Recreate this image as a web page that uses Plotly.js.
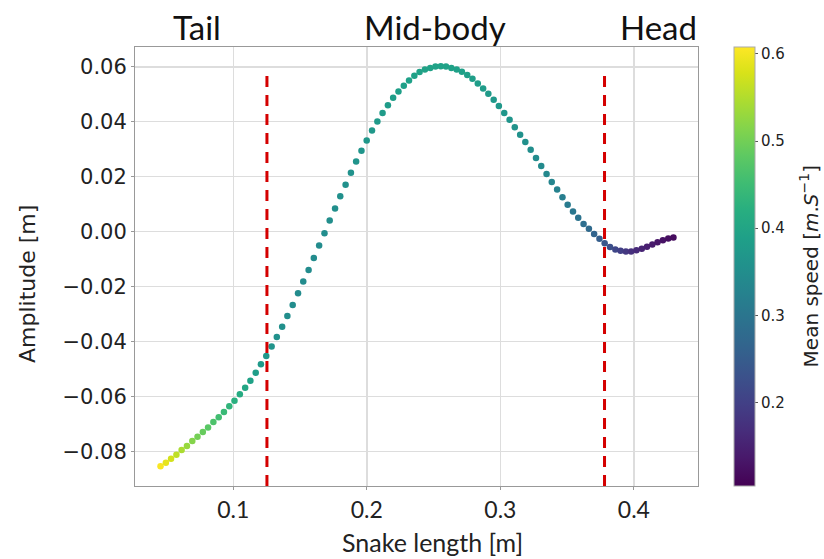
<!DOCTYPE html>
<html>
<head>
<meta charset="utf-8">
<script src="https://cdn.plot.ly/plotly-3.0.1.min.js"></script>
<style>html,body{margin:0;padding:0;background:#fff;}#chart{width:824px;height:559px;}</style>
</head>
<body>
<div id="chart"></div>
<script>
// Snake length [m]
const snakeLength = [
0.0455,0.0495,0.0534,0.0574,0.0613,0.0653,0.0693,0.0732,0.0772,0.0811,
0.0851,0.0891,0.0930,0.0970,0.1009,0.1049,0.1089,0.1128,0.1168,0.1207,
0.1247,0.1287,0.1326,0.1366,0.1405,0.1445,0.1485,0.1524,0.1564,0.1603,
0.1643,0.1683,0.1722,0.1762,0.1801,0.1841,0.1881,0.1920,0.1960,0.1999,
0.2039,0.2079,0.2118,0.2158,0.2197,0.2237,0.2277,0.2316,0.2356,0.2395,
0.2435,0.2475,0.2514,0.2554,0.2593,0.2633,0.2673,0.2712,0.2752,0.2791,
0.2831,0.2871,0.2910,0.2950,0.2989,0.3029,0.3069,0.3108,0.3148,0.3187,
0.3227,0.3267,0.3306,0.3346,0.3385,0.3425,0.3465,0.3504,0.3544,0.3583,
0.3623,0.3663,0.3702,0.3742,0.3781,0.3821,0.3861,0.3900,0.3940,0.3979,
0.4019,0.4059,0.4098,0.4138,0.4177,0.4217,0.4257,0.4296];

// Amplitude [m]
const amplitude = [
-0.0854,-0.0841,-0.0827,-0.0812,-0.0795,-0.0780,-0.0762,-0.0747,-0.0729,-0.0713,
-0.0693,-0.0676,-0.0657,-0.0636,-0.0616,-0.0592,-0.0568,-0.0543,-0.0514,-0.0483,
-0.0453,-0.0418,-0.0384,-0.0346,-0.0307,-0.0267,-0.0224,-0.0182,-0.0140,-0.0096,
-0.0051,-0.0006,0.0040,0.0084,0.0129,0.0171,0.0214,0.0255,0.0294,0.0332,
0.0368,0.0401,0.0432,0.0460,0.0487,0.0510,0.0531,0.0550,0.0567,0.0581,
0.0590,0.0596,0.0601,0.0602,0.0601,0.0596,0.0590,0.0582,0.0570,0.0556,
0.0539,0.0521,0.0502,0.0480,0.0457,0.0432,0.0407,0.0380,0.0353,0.0326,
0.0298,0.0268,0.0239,0.0210,0.0181,0.0153,0.0125,0.0098,0.0073,0.0050,
0.0028,0.0010,-0.0009,-0.0026,-0.0042,-0.0056,-0.0065,-0.0070,-0.0072,-0.0072,
-0.0068,-0.0062,-0.0055,-0.0047,-0.0039,-0.0031,-0.0025,-0.0021];

// Mean speed [m/s]
const meanSpeed = [
0.605,0.590,0.575,0.560,0.545,0.530,0.515,0.502,0.490,0.478,
0.466,0.455,0.444,0.433,0.423,0.413,0.403,0.393,0.384,0.376,
0.369,0.363,0.358,0.354,0.351,0.349,0.347,0.346,0.346,0.346,
0.347,0.348,0.350,0.352,0.354,0.357,0.360,0.363,0.366,0.369,
0.372,0.375,0.378,0.381,0.384,0.386,0.388,0.390,0.391,0.392,
0.393,0.393,0.393,0.393,0.392,0.391,0.390,0.389,0.387,0.385,
0.383,0.380,0.377,0.374,0.371,0.368,0.365,0.362,0.359,0.355,
0.351,0.347,0.342,0.337,0.331,0.325,0.318,0.311,0.303,0.295,
0.286,0.276,0.265,0.253,0.240,0.226,0.212,0.198,0.185,0.173,
0.163,0.154,0.146,0.139,0.133,0.128,0.123,0.119];

// Region boundaries and labels
const boundaries = [0.1252, 0.3780];
const boundaryY = [-0.0926, 0.0590];
const regionLabels = ['Tail', 'Mid-body', 'Head'];
const regionLabelX = [0.110, 0.533, 0.929];
const xTicks = [0.1, 0.2, 0.3, 0.4];
const yTicks = [-0.08, -0.06, -0.04, -0.02, 0.00, 0.02, 0.04, 0.06];
const cbTicks = [0.2, 0.3, 0.4, 0.5, 0.6];

const traces = [{
  type: 'scatter', mode: 'markers',
  x: snakeLength, y: amplitude,
  marker: {
    size: 6.5, color: meanSpeed, colorscale: 'Viridis', cmin: 0.104, cmax: 0.608,
    line: {width: 0},
    showscale: true,
    colorbar: {
      x: 1.064, xanchor: 'left', y: 0, yanchor: 'bottom', len: 1, lenmode: 'fraction',
      ypad: 0, xpad: 0,
      thickness: 21, outlinewidth: 1, outlinecolor: '#aaaaaa',
      tickvals: cbTicks, ticktext: cbTicks.map(v => v.toFixed(1)),
      ticks: 'outside', ticklen: 3, tickcolor: '#555',
      tickfont: {family: 'DejaVu Sans', size: 15, color: '#222'}
    }
  },
  hoverinfo: 'skip', showlegend: false
}];
boundaries.forEach(b => {
  traces.push({
    type: 'scatter', mode: 'lines',
    x: [b, b], y: boundaryY,
    line: {color: '#d40000', width: 3, dash: '11px,8px'},
    hoverinfo: 'skip', showlegend: false
  });
});

const annotations = regionLabels.map((t, i) => ({
  text: t, x: regionLabelX[i], y: 1.046, xref: 'paper', yref: 'paper',
  xanchor: 'center', yanchor: 'middle', showarrow: false,
  font: {family: 'Lato', size: 33, color: '#111'}
}));
annotations.push({
  text: 'Snake length [m]', x: 0.528, y: -0.128, xref: 'paper', yref: 'paper',
  xanchor: 'center', yanchor: 'middle', showarrow: false,
  font: {family: 'Lato', size: 25, color: '#222'}
});
annotations.push({
  text: 'Amplitude [m]', x: -0.192, y: 0.46, xref: 'paper', yref: 'paper',
  xanchor: 'center', yanchor: 'middle', showarrow: false, textangle: -90,
  font: {family: 'DejaVu Sans', size: 22, color: '#222'}
});
annotations.push({
  text: 'Mean speed [<i>m</i>.<i>S</i><sup>−1</sup>]', x: 1.197, y: 0.50, xref: 'paper', yref: 'paper',
  xanchor: 'center', yanchor: 'middle', showarrow: false, textangle: -90,
  font: {family: 'DejaVu Sans', size: 20, color: '#222'}
});

const layout = {
  width: 824, height: 559,
  margin: {l: 135, r: 126, t: 47, b: 73},
  paper_bgcolor: '#ffffff', plot_bgcolor: '#ffffff',
  xaxis: {
    range: [0.0264, 0.448], tickvals: xTicks, ticktext: xTicks.map(v => v.toFixed(1)),
    showgrid: true, gridcolor: '#dddddd', gridwidth: 1.5,
    zeroline: false, showline: true, linecolor: '#999999', linewidth: 1, mirror: true,
    ticks: 'outside', ticklen: 3, tickcolor: '#999',
    tickfont: {family: 'Lato', size: 23, color: '#222'}
  },
  yaxis: {
    range: [-0.0926, 0.0672], tickvals: yTicks,
    ticktext: yTicks.map(v => (v < 0 ? '−' : '') + Math.abs(v).toFixed(2)),
    showgrid: true, gridcolor: '#dddddd', gridwidth: 1.5,
    zeroline: false, showline: true, linecolor: '#999999', linewidth: 1, mirror: true,
    ticks: 'outside', ticklen: 3, tickcolor: '#999',
    tickfont: {family: 'DejaVu Sans', size: 21, color: '#222'}
  },
  annotations: annotations
};

Plotly.newPlot('chart', traces, layout, {displayModeBar: false, staticPlot: true});
</script>
</body>
</html>
